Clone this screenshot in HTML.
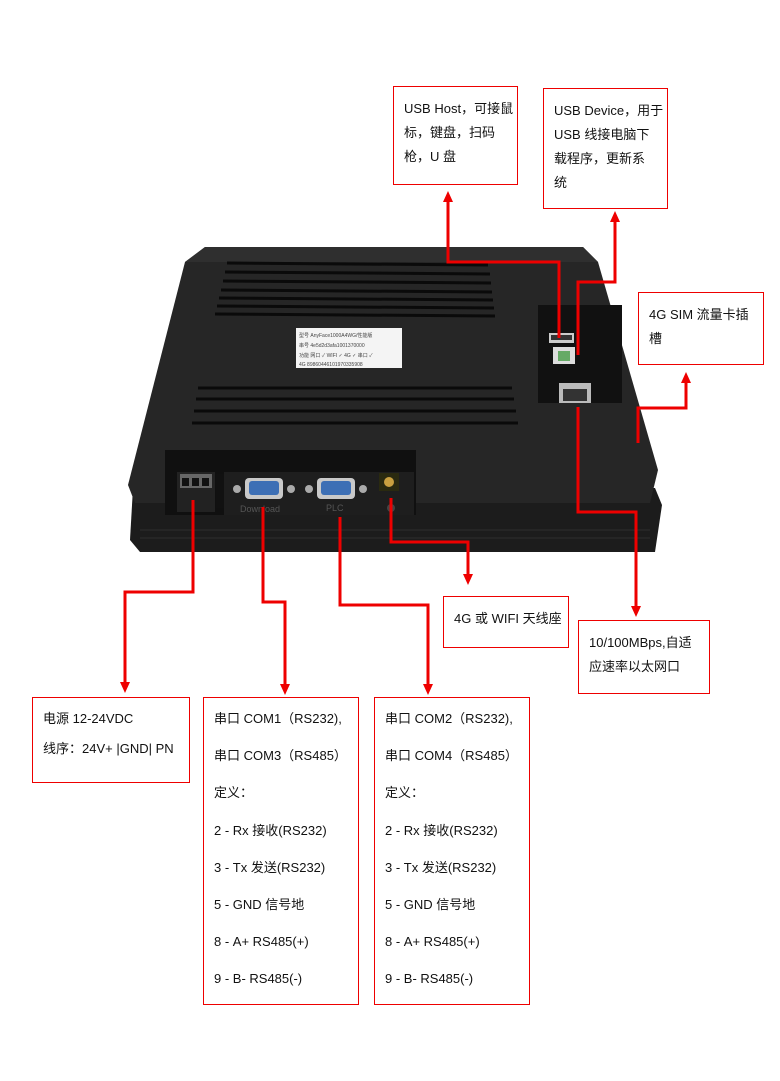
<!DOCTYPE html>
<html><head><meta charset="utf-8"><style>
body{margin:0;width:780px;height:1081px;background:#fff;position:relative;overflow:hidden;font-family:"Liberation Sans","Noto Sans CJK SC",sans-serif;font-size:13px;color:#111}
.b{position:absolute;border:1.5px solid #e00;box-sizing:border-box;padding:10px 0 0 10px;line-height:24px;background:#fff}
svg{position:absolute;left:0;top:0}
</style></head><body>
<svg width="780" height="1081" viewBox="0 0 780 1081">
<!-- bezel -->
<path d="M133,488 L655,488 L662,505 L655,552 L140,552 L130,540 Z" fill="#1c1c1c"/>
<g stroke="#2e2e2e" stroke-width="1">
<path d="M140,530 H650 M140,538 H650"/>
</g>
<!-- main body -->
<path d="M205,247 L583,247 L598,262 L658,470 L650,503 L135,503 L128,485 L185,262 Z" fill="#262626"/>
<path d="M205,247 L583,247 L598,262 L185,262 Z" fill="#2f2f2f"/>
<!-- top vents -->
<g stroke="#0a0a0a" stroke-width="3">
<line x1="227" y1="263" x2="488" y2="265"/>
<line x1="225" y1="272" x2="490" y2="274"/>
<line x1="223" y1="281" x2="491" y2="283"/>
<line x1="221" y1="290" x2="492" y2="292"/>
<line x1="219" y1="298" x2="493" y2="300"/>
<line x1="217" y1="306" x2="494" y2="308"/>
<line x1="215" y1="314" x2="495" y2="316"/>
<line x1="198" y1="388" x2="512" y2="388"/>
<line x1="196" y1="399" x2="514" y2="399"/>
<line x1="194" y1="411" x2="516" y2="411"/>
<line x1="192" y1="423" x2="518" y2="423"/>
</g>
<!-- label -->
<rect x="296" y="328" width="106" height="40" fill="#f4f4f4"/>
<g font-size="5" fill="#444" font-family="Liberation Sans,sans-serif">
<text x="299" y="337">型号 AnyFace1000A4WG/性能版</text>
<text x="299" y="347">串号 4e5d2d3afa1001370000</text>
<text x="299" y="357">功能 网口 ✓ WIFI ✓ 4G ✓ 串口 ✓</text>
<text x="299" y="366">4G 89860446101970335908</text>
</g>
<!-- right recess -->
<rect x="538" y="305" width="84" height="98" fill="#111"/>
<rect x="549" y="333" width="25" height="10" fill="#ccc"/>
<rect x="551" y="335" width="21" height="5" fill="#333"/>
<rect x="553" y="347" width="22" height="17" fill="#ddd"/>
<rect x="558" y="351" width="12" height="10" fill="#6a6"/>
<rect x="559" y="383" width="32" height="20" fill="#bbb"/>
<rect x="563" y="389" width="24" height="12" fill="#333"/>
<!-- connector recess -->
<rect x="165" y="450" width="251" height="65" fill="#101010"/>
<rect x="224" y="472" width="190" height="43" fill="#1e1e1e"/>
<rect x="177" y="472" width="38" height="40" fill="#222"/>
<rect x="180" y="474" width="32" height="14" fill="#666"/>
<rect x="182" y="478" width="7" height="8" fill="#111"/><rect x="192" y="478" width="7" height="8" fill="#111"/><rect x="202" y="478" width="7" height="8" fill="#111"/>
<rect x="216" y="474" width="8" height="34" fill="#111"/>
<circle cx="237" cy="489" r="4" fill="#aaa"/><circle cx="291" cy="489" r="4" fill="#aaa"/>
<rect x="245" y="478" width="38" height="21" rx="4" fill="#c9c9c9"/>
<rect x="249" y="481" width="30" height="14" rx="3" fill="#3d6fb5"/>
<circle cx="309" cy="489" r="4" fill="#aaa"/><circle cx="363" cy="489" r="4" fill="#aaa"/>
<rect x="317" y="478" width="38" height="21" rx="4" fill="#c9c9c9"/>
<rect x="321" y="481" width="30" height="14" rx="3" fill="#3d6fb5"/>
<rect x="379" y="473" width="20" height="18" fill="#2a2a10"/>
<circle cx="389" cy="482" r="5" fill="#c9a040"/>
<circle cx="391" cy="508" r="4" fill="#444"/>
<text x="240" y="512" font-size="9" fill="#555">Download</text>
<text x="326" y="511" font-size="9" fill="#555">PLC</text>
<!-- red connectors -->
<g stroke="#e00" stroke-width="3" fill="none">
<path d="M448,200 V262 H559 V338"/>
<path d="M615,222 V282 H578 V355"/>
<path d="M686,382 V408 H638 V443"/>
<path d="M578,407 V512 H636 V607"/>
<path d="M391,498 V542 H468 V575"/>
<path d="M193,500 V592 H125 V683"/>
<path d="M263,507 V602 H285 V685"/>
<path d="M340,517 V605 H428 V685"/>
</g>
<g fill="#e00">
<path d="M443,202 L448,191 L453,202 Z"/>
<path d="M610,222 L615,211 L620,222 Z"/>
<path d="M681,383 L686,372 L691,383 Z"/>
<path d="M631,606 L636,617 L641,606 Z"/>
<path d="M463,574 L468,585 L473,574 Z"/>
<path d="M120,682 L125,693 L130,682 Z"/>
<path d="M280,684 L285,695 L290,684 Z"/>
<path d="M423,684 L428,695 L433,684 Z"/>
</g>
</svg>
<div class="b" style="left:393px;top:86px;width:125px;height:99px">USB Host，可接鼠<br>标，键盘，扫码<br>枪，U 盘</div>
<div class="b" style="left:543px;top:88px;width:125px;height:121px">USB Device，用于<br>USB 线接电脑下<br>载程序，更新系<br>统</div>
<div class="b" style="left:638px;top:292px;width:126px;height:73px">4G SIM 流量卡插<br>槽</div>
<div class="b" style="left:443px;top:596px;width:126px;height:52px">4G 或 WIFI 天线座</div>
<div class="b" style="left:578px;top:620px;width:132px;height:74px">10/100MBps,自适<br>应速率以太网口</div>
<div class="b" style="left:32px;top:697px;width:158px;height:86px;line-height:30px;padding-top:6px">电源 12-24VDC<br>线序：24V+ |GND| PN</div>
<div class="b" style="left:203px;top:697px;width:156px;height:308px;line-height:37.2px;padding-top:2px">串口 COM1（RS232),<br>串口 COM3（RS485）<br>定义：<br>2 - Rx 接收(RS232)<br>3 - Tx 发送(RS232)<br>5 - GND 信号地<br>8 - A+ RS485(+)<br>9 - B- RS485(-)</div>
<div class="b" style="left:374px;top:697px;width:156px;height:308px;line-height:37.2px;padding-top:2px">串口 COM2（RS232),<br>串口 COM4（RS485）<br>定义：<br>2 - Rx 接收(RS232)<br>3 - Tx 发送(RS232)<br>5 - GND 信号地<br>8 - A+ RS485(+)<br>9 - B- RS485(-)</div>
</body></html>
